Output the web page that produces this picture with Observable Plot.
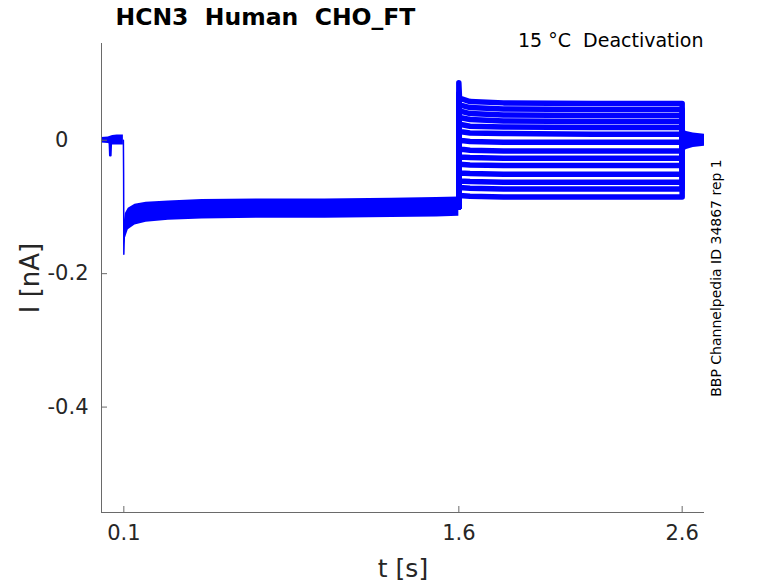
<!DOCTYPE html>
<html><head><meta charset="utf-8">
<script src="https://cdn.jsdelivr.net/npm/d3@7"></script>
<script src="https://cdn.jsdelivr.net/npm/@observablehq/plot@0.6"></script>
<style>body{margin:0;background:#fff}</style>
</head><body><div id="chart"></div>
<script>
const titleText = "HCN3\u00a0 Human\u00a0 CHO_FT";
const subText = "15 °C\u00a0 Deactivation";
const sideText = "BBP Channelpedia ID 34867 rep 1";
const xLabel = "t [s]";
const yLabel = "I [nA]";

const xDomain = [0, 2.7];
const yDomain = [-0.558, 0.145];
const xTicks = [0.1, 1.6, 2.6];
const xTickLabels = ["0.1", "1.6", "2.6"];
const yTicks = [0, -0.2, -0.4];
const yTickLabels = ["0\u00a0\u00a0\u00a0", "-0.2", "-0.4"];

// pre-pulse baseline envelope (t in s, I in nA)
const baseT  = [0.000, 0.030, 0.050, 0.070, 0.098];
const baseHi = [0.004, 0.005, 0.007, 0.008, 0.008];
const baseLo = [-0.004, -0.005, -0.007, -0.007, -0.007];
// small dip
const dipT = [0.036, 0.038, 0.041, 0.043];
const dipI = [-0.004, -0.023, -0.023, -0.004];
// step and capacitive spike
const stepT = [0.098, 0.099, 0.100, 0.1015, 0.104];
const stepI = [0.000, -0.050, -0.171, -0.150, -0.130];
// holding segment envelope
const holdT  = [0.101, 0.107, 0.120, 0.150, 0.200, 0.300, 0.450, 0.700, 1.000, 1.300, 1.500, 1.600];
const holdHi = [-0.125, -0.110, -0.102, -0.096, -0.093, -0.091, -0.089, -0.088, -0.088, -0.087, -0.086, -0.085];
const holdLo = [-0.160, -0.147, -0.134, -0.127, -0.123, -0.120, -0.118, -0.117, -0.117, -0.116, -0.115, -0.114];
// deactivation sweeps
const sweepT = [1.600, 1.600, 1.603, 1.650, 1.800, 2.200, 2.600, 2.600];
const sweep1  = [-0.100, 0.086, 0.063, 0.058, 0.056, 0.055, 0.055, 0.000];
const sweep2  = [-0.100, 0.070, 0.053, 0.049, 0.047, 0.046, 0.046, 0.000];
const sweep3  = [-0.100, 0.060, 0.044, 0.040, 0.038, 0.037, 0.037, 0.000];
const sweep4  = [-0.100, 0.050, 0.034, 0.031, 0.029, 0.028, 0.028, 0.000];
const sweep5  = [-0.100, 0.040, 0.024, 0.021, 0.020, 0.019, 0.019, 0.000];
const sweep6  = [-0.100, 0.030, 0.013, 0.011, 0.010, 0.009, 0.009, 0.000];
const sweep7  = [-0.100, 0.015, 0.000, -0.002, -0.003, -0.003, -0.003, 0.000];
const sweep8  = [-0.100, 0.000, -0.013, -0.015, -0.016, -0.016, -0.016, 0.000];
const sweep9  = [-0.100, -0.010, -0.025, -0.026, -0.027, -0.027, -0.027, 0.000];
const sweep10 = [-0.100, -0.020, -0.036, -0.037, -0.038, -0.038, -0.038, 0.000];
const sweep11 = [-0.100, -0.035, -0.049, -0.050, -0.051, -0.051, -0.051, 0.000];
const sweep12 = [-0.100, -0.050, -0.061, -0.062, -0.063, -0.063, -0.063, 0.000];
const sweep13 = [-0.100, -0.060, -0.071, -0.072, -0.073, -0.073, -0.073, 0.000];
const sweep14 = [-0.100, -0.075, -0.083, -0.084, -0.085, -0.085, -0.085, 0.000];
// tail after the test pulse
const tailT  = [2.600, 2.620, 2.650, 2.700];
const tailHi = [0.016, 0.013, 0.011, 0.009];
const tailLo = [-0.018, -0.014, -0.011, -0.009];

const blue = "#0000ff";
const axisGray = "#6a6a6a";
const textGray = "#262626";

const band = (T, H, L) => T.map((t, i) => ({t, hi: H[i], lo: L[i]}));
const pts = (T, V) => T.map((t, i) => ({t, v: V[i]}));
const sweeps = [sweep1, sweep2, sweep3, sweep4, sweep5, sweep6, sweep7, sweep8, sweep9, sweep10, sweep11, sweep12, sweep13, sweep14];
const sweepRows = sweeps.flatMap((s, k) => sweepT.map((t, i) => ({sweep: k, t, v: s[i]})));

const chart = Plot.plot({
  width: 778, height: 583,
  marginLeft: 101, marginRight: 74, marginTop: 43, marginBottom: 71,
  style: {fontFamily: "DejaVu Sans", color: textGray, background: "white"},
  x: {domain: xDomain},
  y: {domain: yDomain},
  marks: [
    Plot.areaY(band(baseT, baseHi, baseLo), {x: "t", y1: "lo", y2: "hi", fill: blue}),
    Plot.line(pts(dipT, dipI), {x: "t", y: "v", stroke: blue, strokeWidth: 2}),
    Plot.line(pts(stepT, stepI), {x: "t", y: "v", stroke: blue, strokeWidth: 1.5}),
    Plot.areaY(band(holdT, holdHi, holdLo), {x: "t", y1: "lo", y2: "hi", fill: blue}),
    Plot.line(sweepRows, {x: "t", y: "v", z: "sweep", stroke: blue, strokeWidth: 5.5}),
    Plot.areaY(band(tailT, tailHi, tailLo), {x: "t", y1: "lo", y2: "hi", fill: blue}),
    Plot.ruleX([xDomain[0]], {stroke: axisGray}),
    Plot.ruleY([yDomain[0]], {stroke: axisGray}),
    Plot.axisX({ticks: xTicks, tickFormat: d => xTickLabels[xTicks.indexOf(d)], tickSize: -6, tickPadding: 19, fontSize: 21, stroke: axisGray, fill: textGray, label: null}),
    Plot.axisY({ticks: yTicks, tickFormat: d => yTickLabels[yTicks.indexOf(d)], tickSize: -6, tickPadding: 19, fontSize: 21, stroke: axisGray, fill: textGray, label: null}),
    Plot.text([xLabel], {frameAnchor: "bottom", dy: 56, fontSize: 25, fill: textGray, lineAnchor: "middle", textAnchor: "middle"}),
    Plot.text([yLabel], {frameAnchor: "left", dx: -71, rotate: -90, fontSize: 26, fill: textGray, lineAnchor: "middle", textAnchor: "middle"}),
    Plot.text([titleText], {frameAnchor: "top-left", dx: 14, dy: -26, textAnchor: "start", lineAnchor: "middle", fontSize: 23.5, fontWeight: "bold", fill: "#000"}),
    Plot.text([subText], {frameAnchor: "top-right", dx: -1, dy: -3, textAnchor: "end", lineAnchor: "middle", fontSize: 19, fill: "#000"}),
    Plot.text([sideText], {frameAnchor: "right", dx: 12, rotate: -90, fontSize: 14, fill: "#000", lineAnchor: "middle", textAnchor: "middle"})
  ]
});
document.getElementById("chart").appendChild(chart);
</script>
</body></html>
